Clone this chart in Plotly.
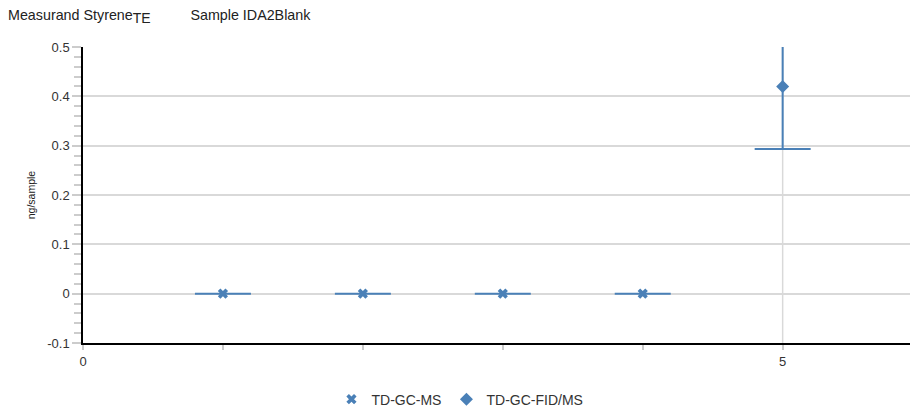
import plotly.graph_objects as go

# Data
ms_x = [1, 2, 3, 4]
ms_y = [0.0, 0.0, 0.0, 0.0]
ms_err_plus = [0.0, 0.0, 0.0, 0.0]
ms_err_minus = [0.0, 0.0, 0.0, 0.0]

fid_x = [5]
fid_y = [0.42]
fid_err_plus = [0.25]
fid_err_minus = [0.127]

x_tickvals = [0, 1, 2, 3, 4, 5]
x_ticktext = ["0", "", "", "", "", "5"]
y_tickvals = [-0.1, 0, 0.1, 0.2, 0.3, 0.4, 0.5]
y_ticktext = ["-0.1", "0", "0.1", "0.2", "0.3", "0.4", "0.5"]

color = "#4a80b7"

fig = go.Figure()
fig.add_trace(go.Scatter(
    x=ms_x, y=ms_y, mode="markers", name="TD-GC-MS",
    marker=dict(symbol="x", size=9, color=color),
    error_y=dict(type="data", symmetric=False, array=ms_err_plus, arrayminus=ms_err_minus,
                 color=color, thickness=2, width=28),
))
fig.add_trace(go.Scatter(
    x=fid_x, y=fid_y, mode="markers", name="TD-GC-FID/MS",
    marker=dict(symbol="diamond", size=10, color=color),
    error_y=dict(type="data", symmetric=False, array=fid_err_plus, arrayminus=fid_err_minus,
                 color=color, thickness=2, width=28),
))

fig.add_shape(type="line", xref="x", yref="paper", x0=5, x1=5, y0=0, y1=1,
              line=dict(color="#d9d9d9", width=1.5), layer="below")

fig.update_layout(
    width=918, height=404,
    margin=dict(l=75, r=9, t=39, b=69, autoexpand=False),
    paper_bgcolor="white", plot_bgcolor="white",
    font=dict(family="Liberation Sans, Arial, sans-serif", size=13, color="#333333"),
    showlegend=True,
    legend=dict(orientation="h", x=0.452, xanchor="center", y=-0.137, yanchor="top",
                font=dict(size=14, color="#333333"), tracegroupgap=0),
    annotations=[dict(
        text="Measurand Styrene<sub><span style='font-size:14px'>TE</span></sub>          Sample IDA2Blank",
        xref="paper", yref="paper", x=-0.0923, y=1.0, xanchor="left", yanchor="bottom",
        yshift=19, showarrow=False, font=dict(size=14.3, color="#222222"))],
)
fig.update_xaxes(
    range=[0, 5.96], tickvals=x_tickvals, ticktext=x_ticktext,
    showgrid=False, zeroline=False, automargin=False,
    showline=True, linecolor="black", linewidth=2,
    ticks="outside", ticklen=5, tickcolor="#cccccc", tickwidth=1.5,
    tickfont=dict(size=13, color="#333333"),
)
fig.update_yaxes(
    range=[-0.1, 0.5], tickvals=y_tickvals, ticktext=y_ticktext,
    showgrid=True, gridcolor="#d9d9d9", gridwidth=1.5, zeroline=False, automargin=False,
    showline=True, linecolor="black", linewidth=1.5,
    ticks="outside", ticklen=9, tickcolor="#cccccc", tickwidth=2,
    minor=dict(dtick=0.02, tick0=0, ticks="outside", ticklen=7, tickcolor="#cccccc", tickwidth=2, showgrid=False),
    title=dict(text="ng/sample", font=dict(size=10.5, color="#222222"), standoff=10),
    tickfont=dict(size=13, color="#333333"),
)

fig.write_html("out.html")
